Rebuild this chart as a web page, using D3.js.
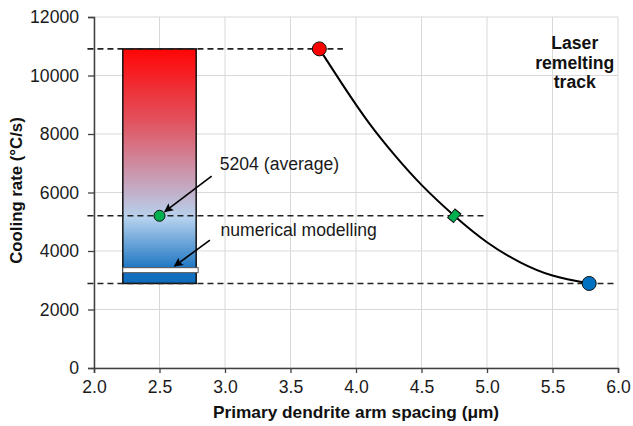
<!DOCTYPE html>
<html lang="en">
  <head>
    <meta charset="UTF-8" />
    <title>Cooling rate vs PDAS</title>
    <script src="https://d3js.org/d3.v7.min.js"></script>
    <style>
      * {
        margin: 0;
        padding: 0;
      }
      body {
        background: #fff;
      }
      text {
        font-family: "Liberation Sans", Arial, sans-serif;
      }
    </style>
  </head>
  <body>
    <div id="chart"></div>
    <script>
      // values
      const xTicks = [2.0, 2.5, 3.0, 3.5, 4.0, 4.5, 5.0, 5.5, 6.0];
      const yTicks = [0, 2000, 4000, 6000, 8000, 10000, 12000];

      // measured range bar (x span, min / max cooling rate)
      const barX = [2.22, 2.78];
      const barRange = [2890, 10910];
      const modelValue = 3345;
      const average = { x: 2.5, y: 5204 };

      // laser remelting track curve, traced points
      const curveX = [3.72, 3.9, 4.1, 4.3, 4.5, 4.75, 5.0, 5.25, 5.5, 5.78];
      const curveY = [10910, 9670, 8370, 7250, 6260, 5204, 4300, 3620, 3160, 2890];

      // markers on the curve
      const markers = [
        { x: 3.72, y: 10910, shape: "circle", color: "#ff0000" },
        { x: 4.75, y: 5204, shape: "diamond", color: "#00b050" },
        { x: 5.78, y: 2890, shape: "circle", color: "#0070c0" },
      ];

      // dashed guide lines: level and where they stop
      const guideLevels = [10910, 5204, 2890];
      const guideEnds = [3.9, 5.0, 5.97];

      // annotation arrows [x1, y1, x2, y2]
      const arrows = [
        [2.898, 6563, 2.54, 5345],
        [2.885, 4372, 2.615, 3485],
      ];

      const width = 633;
      const height = 426;
      const MARGIN = { left: 94, right: 15, top: 17, bottom: 58 };
      const innerW = width - MARGIN.left - MARGIN.right;
      const innerH = height - MARGIN.top - MARGIN.bottom;
      const FONT = 17.6;

      const svg = d3
        .select("#chart")
        .append("svg")
        .attr("width", width)
        .attr("height", height);

      const defs = svg.append("defs");
      const grad = defs
        .append("linearGradient")
        .attr("id", "barGrad")
        .attr("x1", 0)
        .attr("y1", 0)
        .attr("x2", 0)
        .attr("y2", 1);
      [
        [0, "#ff0505"],
        [0.3, "#e2505c"],
        [0.58, "#c6a6bf"],
        [0.72, "#b6d2ee"],
        [0.95, "#1470c0"],
        [1, "#0f6bbb"],
      ].forEach((s) => {
        grad.append("stop").attr("offset", s[0]).attr("stop-color", s[1]);
      });

      defs
        .append("marker")
        .attr("id", "arrowHead")
        .attr("viewBox", "0 0 10 10")
        .attr("refX", 9)
        .attr("refY", 5)
        .attr("markerWidth", 11)
        .attr("markerHeight", 9)
        .attr("markerUnits", "userSpaceOnUse")
        .attr("orient", "auto")
        .append("path")
        .attr("d", "M0,0 L10,5 L0,10 L2,5 Z")
        .attr("fill", "#000");

      const g = svg
        .append("g")
        .attr("transform", `translate(${MARGIN.left}, ${MARGIN.top})`);

      const x = d3.scaleLinear().domain([2, 6]).range([0, innerW]);
      const y = d3.scaleLinear().domain([0, 12000]).range([innerH, 0]);

      // grid
      g.append("g")
        .selectAll("line")
        .data(xTicks)
        .join("line")
        .attr("x1", (d) => x(d))
        .attr("x2", (d) => x(d))
        .attr("y1", 0)
        .attr("y2", innerH)
        .attr("stroke", "#d9d9d9");
      g.append("g")
        .selectAll("line")
        .data(yTicks)
        .join("line")
        .attr("x1", 0)
        .attr("x2", innerW)
        .attr("y1", (d) => y(d))
        .attr("y2", (d) => y(d))
        .attr("stroke", "#d9d9d9");

      // axes
      const axisX = g
        .append("g")
        .attr("transform", `translate(0, ${innerH})`)
        .call(
          d3
            .axisBottom(x)
            .tickValues(xTicks)
            .tickFormat(d3.format(".1f"))
            .tickSize(5)
            .tickPadding(8)
        );
      const axisY = g.append("g").call(
        d3
          .axisLeft(y)
          .tickValues(yTicks)
          .tickFormat(d3.format("d"))
          .tickSize(6)
          .tickPadding(9)
      );
      [axisX, axisY].forEach((a) => {
        a.select(".domain").attr("stroke", "#404040").attr("stroke-width", 1.5);
        a.selectAll(".tick line").attr("stroke", "#404040").attr("stroke-width", 1.3);
        a.selectAll("text")
          .attr("font-size", FONT)
          .attr("fill", "#1a1a1a")
          .attr("font-family", "Liberation Sans, Arial, sans-serif");
      });

      // range bar
      g.append("rect")
        .attr("x", x(barX[0]))
        .attr("width", x(barX[1]) - x(barX[0]))
        .attr("y", y(barRange[1]))
        .attr("height", y(barRange[0]) - y(barRange[1]))
        .attr("fill", "url(#barGrad)")
        .attr("stroke", "#111")
        .attr("stroke-width", 1.5);

      // numerical modelling band
      g.append("rect")
        .attr("x", x(barX[0]))
        .attr("width", x(barX[1]) - x(barX[0]) + 2)
        .attr("y", y(modelValue) - 2.5)
        .attr("height", 5)
        .attr("fill", "#fff")
        .attr("stroke", "#555")
        .attr("stroke-width", 1);

      // dashed guides
      g.append("g")
        .selectAll("line")
        .data(guideLevels)
        .join("line")
        .attr("x1", x(1.95))
        .attr("x2", (d, i) => x(guideEnds[i]))
        .attr("y1", (d) => y(d))
        .attr("y2", (d) => y(d))
        .attr("stroke", "#222")
        .attr("stroke-width", 1.6)
        .attr("stroke-dasharray", "6,4");

      // curve
      const line = d3
        .line()
        .x((d, i) => x(curveX[i]))
        .y((d) => y(d))
        .curve(d3.curveNatural);
      g.append("path")
        .attr("d", line(curveY))
        .attr("fill", "none")
        .attr("stroke", "#000")
        .attr("stroke-width", 2);

      // average point
      g.append("circle")
        .attr("cx", x(average.x))
        .attr("cy", y(average.y))
        .attr("r", 5.5)
        .attr("fill", "#00b050")
        .attr("stroke", "#111")
        .attr("stroke-width", 1);

      // markers on curve
      const sym = d3.symbol().type(d3.symbolSquare).size(95);
      markers.forEach((m) => {
        if (m.shape === "circle") {
          g.append("circle")
            .attr("cx", x(m.x))
            .attr("cy", y(m.y))
            .attr("r", 7)
            .attr("fill", m.color)
            .attr("stroke", "#111")
            .attr("stroke-width", 1);
        } else {
          g.append("path")
            .attr("d", sym())
            .attr("transform", `translate(${x(m.x)},${y(m.y)}) rotate(40) scale(0.8,1.15)`)
            .attr("fill", m.color)
            .attr("stroke", "#111")
            .attr("stroke-width", 1);
        }
      });

      // arrows
      g.append("g")
        .selectAll("line")
        .data(arrows)
        .join("line")
        .attr("x1", (d) => x(d[0]))
        .attr("y1", (d) => y(d[1]))
        .attr("x2", (d) => x(d[2]))
        .attr("y2", (d) => y(d[3]))
        .attr("stroke", "#000")
        .attr("stroke-width", 1.6)
        .attr("marker-end", "url(#arrowHead)");

      // annotations
      g.append("text")
        .attr("x", x(2.96))
        .attr("y", y(6760))
        .attr("font-size", FONT)
        .attr("fill", "#1a1a1a")
        .text("5204 (average)");
      g.append("text")
        .attr("x", x(2.965))
        .attr("y", y(4500))
        .attr("font-size", FONT)
        .attr("fill", "#1a1a1a")
        .text("numerical modelling");

      const track = g
        .append("text")
        .attr("font-size", FONT)
        .attr("font-weight", "bold")
        .attr("text-anchor", "middle")
        .attr("fill", "#111");
      ["Laser", "remelting", "track"].forEach((t, i) => {
        track
          .append("tspan")
          .attr("x", x(5.67))
          .attr("y", 32 + i * 19.7)
          .text(t);
      });

      // axis titles
      svg
        .append("text")
        .attr("x", MARGIN.left + innerW / 2)
        .attr("y", 418)
        .attr("text-anchor", "middle")
        .attr("font-size", 17.3)
        .attr("font-weight", "bold")
        .attr("fill", "#111")
        .text("Primary dendrite arm spacing (μm)");
      svg
        .append("text")
        .attr("transform", "translate(22, 190.5) rotate(-90)")
        .attr("text-anchor", "middle")
        .attr("font-size", 16.8)
        .attr("font-weight", "bold")
        .attr("fill", "#111")
        .text("Cooling rate (°C/s)");
    </script>
  </body>
</html>
